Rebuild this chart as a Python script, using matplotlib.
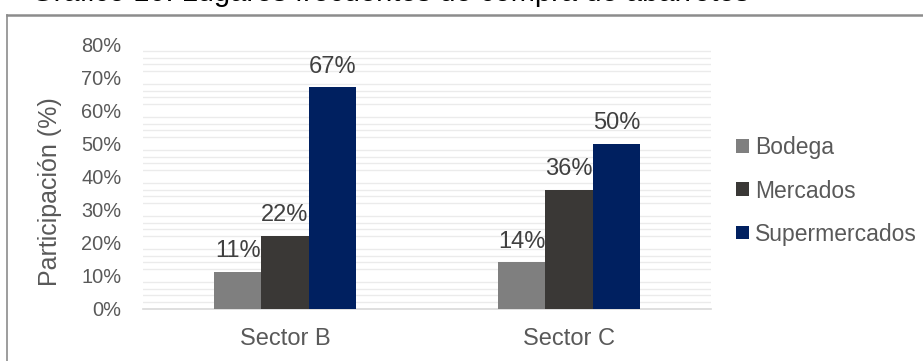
import matplotlib
matplotlib.use("Agg")
import matplotlib.pyplot as plt
import numpy as np
from matplotlib.lines import Line2D
from matplotlib.patches import Patch

plt.rcParams['font.family'] = ['Liberation Sans', 'DejaVu Sans']

title = "Gráfico 10: Lugares frecuentes de compra de abarrotes"
categories = ["Sector B", "Sector C"]
series = ["Bodega", "Mercados", "Supermercados"]
bodega = [0.11, 0.14]
mercados = [0.22, 0.36]
supermercados = [0.67, 0.50]
colors = ["#7f7f7f", "#3a3836", "#002060"]
yticks = [0, 0.1, 0.2, 0.3, 0.4, 0.5, 0.6, 0.7, 0.8]
ytick_labels = ["0%", "10%", "20%", "30%", "40%", "50%", "60%", "70%", "80%"]

W, H = 923, 361
fig = plt.figure(figsize=(W / 100, H / 100), dpi=100)
ax = fig.add_axes([143 / W, 1 - 308.5 / H, (711 - 143) / W, (308.5 - 44.5) / H])

x = np.arange(len(categories))
bw = 1 / 6
values = [bodega, mercados, supermercados]
for i, (name, vals, c) in enumerate(zip(series, values, colors)):
    bars = ax.bar(x + (i - 1) * bw, vals, width=bw, color=c, label=name, zorder=3)
    ax.bar_label(bars, labels=[f"{v*100:.0f}%" for v in vals], padding=7,
                 fontsize=17, color="#404040")

ax.set_xlim(-0.5, 1.5)
ax.set_ylim(0, 0.8)
ax.set_yticks(yticks)
ax.set_yticklabels(ytick_labels, fontsize=14.4, color="#595959")
ax.set_xticks(x)
ax.set_xticklabels(categories, fontsize=17, color="#595959")
ax.tick_params(axis="both", length=0)
ax.tick_params(axis="y", pad=15.5)
ax.tick_params(axis="x", pad=14)

# minor gridlines every 2% (major levels left blank)
minor = [v / 100 for v in range(2, 80, 2) if v % 10 != 0]
for yv in minor:
    ax.axhline(yv, color="#ebebeb", lw=1.0, zorder=1)

for s in ["top", "right", "left"]:
    ax.spines[s].set_visible(False)
ax.spines["bottom"].set_color("#d9d9d9")
ax.spines["bottom"].set_linewidth(1.2)

ax.set_ylabel("Participación (%)", fontsize=18, color="#595959")
ax.yaxis.set_label_coords(-0.1426, 0.441)

handles = [Patch(facecolor=c, edgecolor="none") for c in colors]
fig.legend(handles, series, loc="center left", bbox_to_anchor=(736 / W, 1 - 191 / H),
           frameon=False, fontsize=16.5, handlelength=0.55, handleheight=0.55,
           handletextpad=0.28, labelspacing=0.88, borderpad=0, borderaxespad=0,
           labelcolor="#595959")

# outer frame (partially visible)
fig.add_artist(Line2D([7 / W, 7 / W], [-0.1, 1 - 15 / H], color="#8c8c8c", lw=1.2,
                      transform=fig.transFigure))
fig.add_artist(Line2D([7 / W, 1.1], [1 - 15 / H, 1 - 15 / H], color="#8c8c8c", lw=1.8,
                      transform=fig.transFigure))

fig.text(31 / W, 1 - 1.0 / H, title, fontsize=21, color="black", va="baseline", ha="left")

fig.savefig("out.png", dpi=100)
